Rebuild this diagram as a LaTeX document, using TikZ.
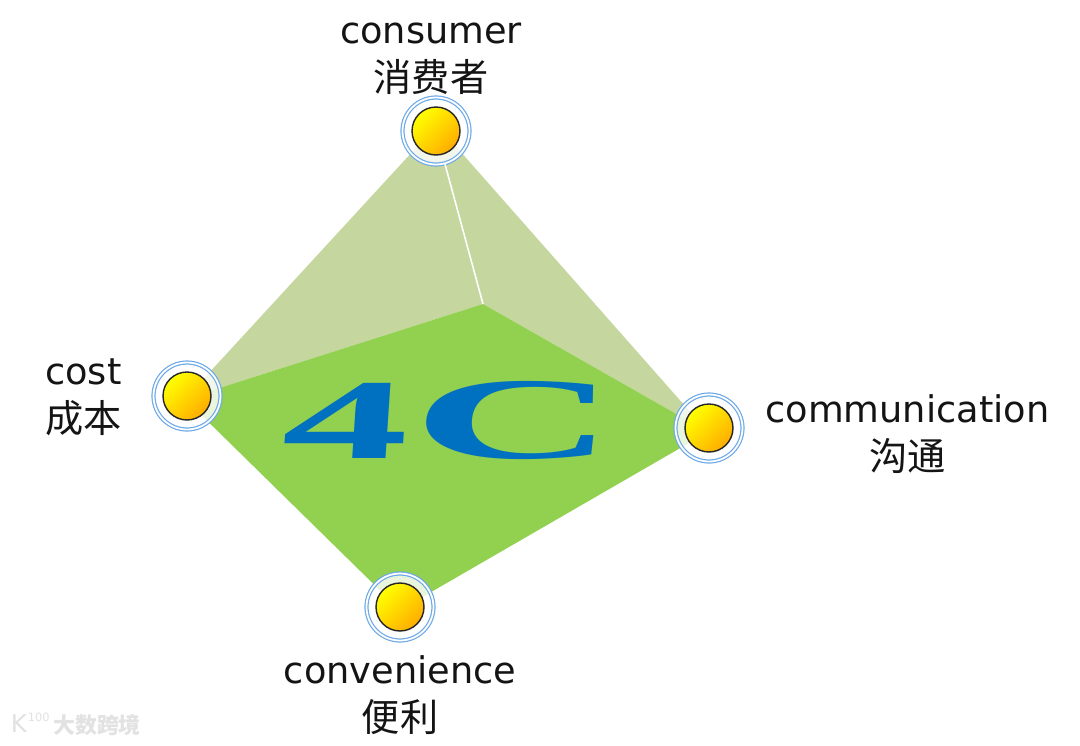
\documentclass[tikz,border=0pt]{standalone}
\usepackage{fontspec}
\usepackage{xcolor}
\usetikzlibrary{positioning}
\setmainfont{DejaVu Sans}
\newfontfamily\cjkfont{Noto Sans CJK SC}[Scale=1.04]
\newfontfamily\titlefont{Liberation Serif}[BoldFont={Liberation Serif Bold}]
\definecolor{FloorGreen}{RGB}{146,208,80}
\definecolor{WallGreen}{RGB}{197,214,158}
\definecolor{RingBlue}{RGB}{110,170,232}
\definecolor{TitleBlue}{RGB}{0,112,192}
\definecolor{BallOrange}{RGB}{255,172,0}
\definecolor{MarkGray}{RGB}{226,226,226}

\begin{document}
\begin{tikzpicture}[
  x=0.02cm, y=-0.02cm,
  font=\fontsize{20.9pt}{26pt}\selectfont,
  node distance=0.1cm and 0.3cm,
  ringnode/.style={circle, draw=RingBlue, line width=0.7pt, double=white,
                   double distance=1pt, fill=white, fill opacity=0.8,
                   minimum size=1.34cm, inner sep=0pt},
  ballnode/.style={circle, draw=black!85, line width=0.8pt, top color=yellow,
                   bottom color=BallOrange, shading angle=45,
                   minimum size=0.96cm, inner sep=0pt},
  caption/.style={align=center, text=black!92, inner sep=0pt},
]
  \useasboundingbox[fill=white] (0,0) rectangle (1080,745);

  \coordinate (peak) at (437,125);
  \coordinate (west) at (185,399);
  \coordinate (east) at (708,432);
  \coordinate (south) at (400,610);
  \coordinate (mid) at (483,304);

  % pyramid faces
  \fill[WallGreen] (peak) -- (west) -- (mid) -- (east) -- cycle;
  \fill[FloorGreen] (west) -- (mid) -- (east) -- (south) -- cycle;

  \node[ringnode] (consumer) at (436,131) {};
  \node[ringnode] (cost) at (187,396) {};
  \node[ringnode] (communication) at (709,428) {};
  \node[ringnode] (convenience) at (400,607) {};
  \foreach \n in {consumer,cost,communication,convenience}
    \node[ballnode] at (\n) {};

  \draw[white, line width=0.9pt] (consumer) -- (mid);

  \node[caption, above=0.04cm of consumer, xshift=-0.1cm] (consumertext) {consumer\\[1.5pt]{\cjkfont 消费者}};
  \node[caption, left=0.62cm of cost, yshift=-0.02cm] (costtext) {cost\\[1.5pt]{\cjkfont 成本}};
  \node[caption, right=0.44cm of communication, yshift=-0.12cm] (communicationtext) {communication\\[1.5pt]{\cjkfont 沟通}};
  \node[caption, below=0.28cm of convenience] (conveniencetext) {convenience\\[1.5pt]{\cjkfont 便利}};

  \node[text=TitleBlue, xscale=2.22, xslant=0.03, transform shape, inner sep=0pt] (title) at (450,420)
    {\fontsize{65pt}{65pt}\titlefont\bfseries 4\kern0.8pt\scalebox{1.11}[1.02]{C}};

  % watermark
  \node[text=MarkGray, inner sep=0pt] (logo) at (19,724) {\fontsize{14pt}{14pt}\selectfont K};
  \node[text=MarkGray, inner sep=0pt, right=0cm of logo, yshift=0.14cm] (logonum) {\fontsize{6.5pt}{7pt}\selectfont 100};
  \node[text=MarkGray, inner sep=0pt] (mark) at (97,725) {\fontsize{12pt}{12pt}\cjkfont\bfseries 大数跨境};
\end{tikzpicture}
\end{document}
